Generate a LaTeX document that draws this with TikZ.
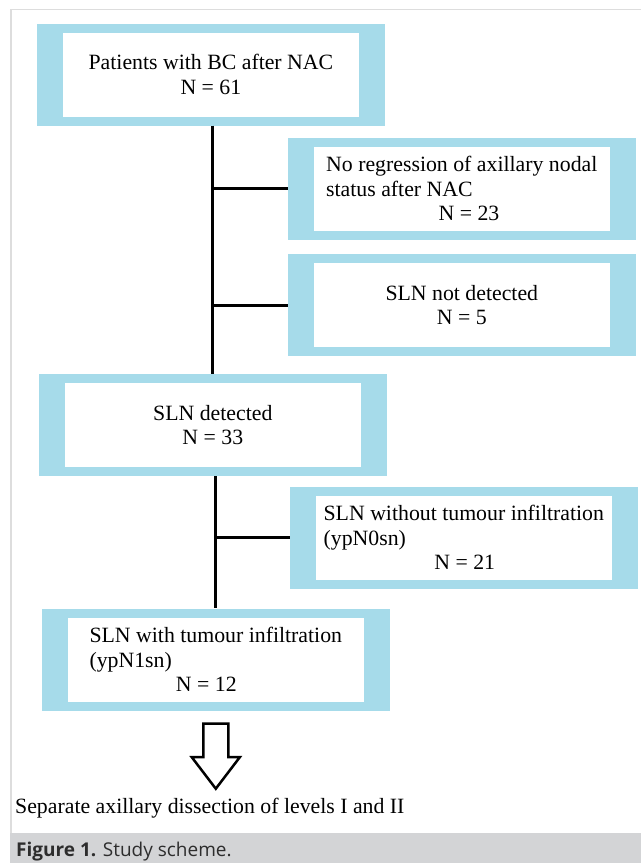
\documentclass[tikz,border=0pt]{standalone}
\usepackage{fontspec}
\setmainfont{Liberation Serif}
\newfontfamily\capfont{Open Sans}
\usepackage{tikz}
\usetikzlibrary{positioning,calc}
\definecolor{boxblue}{RGB}{166,219,234}
\definecolor{framegray}{RGB}{221,221,221}
\definecolor{capgray}{RGB}{211,212,214}
\definecolor{capink}{RGB}{45,45,45}

\begin{document}
\begin{tikzpicture}[x=1pt,y=-1pt,on grid,
	box/.style={rectangle,fill=boxblue,minimum width=348pt,minimum height=102pt,inner sep=0pt,
		font=\fontsize{21.8}{24.5}\selectfont,
		path picture={\fill[white] ([shift={(26pt,-9pt)}]path picture bounding box.north west) rectangle ([shift={(-26pt,9pt)}]path picture bounding box.south east);}},
	link/.style={line width=3pt}]
	\useasboundingbox (0,0) rectangle (641,863);
	\draw[framegray,line width=1.5pt] (11,833.3) -- (11,9.5) -- (641,9.5);
	\fill[capgray] (10.25,833.3) rectangle (641,863);

	\node[box,align=center] (top) at (210.9,74.5) {Patients with BC after NAC\\N = 61};
	\node[box,align=left] (noreg) [below right=114.3pt and 250.9pt of top] {No regression of axillary nodal\\status after NAC\\\hspace*{112.4pt}N = 23};
	\node[box,align=center] (notdet) [below=116.2pt of noreg] {SLN not detected\\N = 5};
	\node[box,align=center] (det) [below left=120pt and 249pt of notdet] {SLN detected\\N = 33};
	\node[box,align=left] (neg) [below right=112.5pt and 251pt of det] {SLN without tumour infiltration\\(ypN0sn)\\\hspace*{110.7pt}N = 21};
	\node[box,align=left] (pos) [below left=122pt and 248pt of neg] {SLN with tumour infiltration\\(ypN1sn)\\\hspace*{86.4pt}N = 12};
	\node[anchor=base west,inner sep=0pt,font=\fontsize{21.8}{24.5}\selectfont] (dissect) at (15,813.3) {Separate axillary dissection of levels I and II};
	\node[anchor=base west,inner sep=0pt,text=capink,font=\capfont\fontsize{19}{22}\selectfont] (caption) at (16,856) {\textbf{Figure 1.} Study scheme.};

	\draw[link] (det.north |- top.south) -- (det.north);
	\draw[link] (noreg.west -| det.north) -- (noreg.west);
	\draw[link] (notdet.west -| det.north) -- (notdet.west);
	\draw[link] (pos.north |- det.south) -- (pos.north);
	\draw[link] (neg.west -| pos.north) -- (neg.west);
	\draw[line width=2.5pt] ($(pos.south)+(-12.5,13)$) -- ++(0,33.5) -- ++(-11.5,0) -- ($(pos.south)+(0,78)$)
		-- ($(pos.south)+(24,46.5)$) -- ++(-11.5,0) -- ++(0,-33.5) -- cycle;
\end{tikzpicture}
\end{document}
